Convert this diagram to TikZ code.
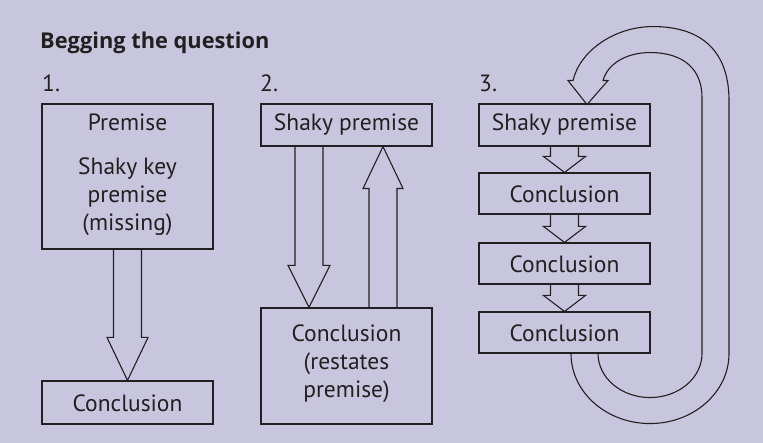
\documentclass[tikz,border=0pt]{standalone}
\usepackage{fontspec}
\setmainfont{PT Sans}
\newfontfamily\titlefont{Open Sans}
\usetikzlibrary{calc}
\definecolor{bg}{RGB}{200,198,222}
\definecolor{ink}{RGB}{35,31,32}
\newcommand{\blkdown}[5]{\draw[blk] let \p1=#1, \p2=#2 in (\x2-#3,\y1) -- (\x2-#3,\y2+#5) -- (\x2-#4,\y2+#5) -- (\x2,\y2) -- (\x2+#4,\y2+#5) -- (\x2+#3,\y2+#5) -- (\x2+#3,\y1);}
\newcommand{\blkup}[5]{\draw[blk] let \p1=#1, \p2=#2 in (\x2-#3,\y1) -- (\x2-#3,\y2-#5) -- (\x2-#4,\y2-#5) -- (\x2,\y2) -- (\x2+#4,\y2-#5) -- (\x2+#3,\y2-#5) -- (\x2+#3,\y1);}
\begin{document}
\begin{tikzpicture}[x=1pt,y=-1pt,
  box/.style={draw=ink, line width=1.1pt, minimum width=171pt, inner sep=0pt},
  blk/.style={draw=ink, line width=1.1pt, line join=miter},
  txt/.style={text=ink, anchor=base, inner sep=0pt, font=\fontsize{23.5}{28}\selectfont},
  num/.style={txt, anchor=base west},
  ttl/.style={text=ink, anchor=base west, inner sep=0pt, font=\titlefont\fontsize{21.8}{26}\selectfont\bfseries}]
\fill[bg] (0,0) rectangle (763,443);
\useasboundingbox (0,0) rectangle (763,443);
% title and numbers
\node[ttl] (title) at (40,49) {Begging the question};
\node[num] (n1) at (42,92) {1.};
\node[num] (n2) at (260,92) {2.};
\node[num] (n3) at (479,92) {3.};
% boxes
\node[box, minimum height=145pt] (p1) at (127.5,176.5) {};
\node[box, minimum height=43pt] (c1) at (127.5,402.5) {};
\node[box, minimum height=42pt] (s2) at (346.5,125) {};
\node[box, minimum height=116pt] (c2) at (346.5,366) {};
\node[box, minimum height=42pt] (s3) at (564.5,125) {};
\node[box, minimum height=41pt] (c3a) at (564.5,193.5) {};
\node[box, minimum height=41pt] (c3b) at (564.5,263.5) {};
\node[box, minimum height=41pt] (c3c) at (564.5,332.5) {};
% texts
\node[txt] (p1a) at (127.5,131) {Premise};
\node[txt] (p1b) at (127.5,175) {Shaky key};
\node[txt] (p1c) at (127.5,203) {premise};
\node[txt] (p1d) at (127.5,231) {(missing)};
\node[txt] (c1t) at (127.5,411) {Conclusion};
\node[txt] (s2t) at (346.5,131) {Shaky premise};
\node[txt] (c2a) at (346.5,342) {Conclusion};
\node[txt] (c2b) at (346.5,370) {(restates};
\node[txt] (c2c) at (346.5,398) {premise)};
\node[txt] (s3t) at (564.5,131) {Shaky premise};
\node[txt] (c3at) at (564.5,203) {Conclusion};
\node[txt] (c3bt) at (564.5,273) {Conclusion};
\node[txt] (c3ct) at (564.5,342) {Conclusion};
% block arrows
\coordinate (a2s) at ($(s2.south)+(-37.5,0)$);
\coordinate (a2e) at ($(c2.north)+(-37.5,0)$);
\coordinate (b2s) at ($(c2.north)+(36.5,0)$);
\coordinate (b2e) at ($(s2.south)+(36.5,0)$);
\blkdown{(p1.south)}{(c1.north)}{14pt}{20.5pt}{43pt}
\blkdown{(a2s)}{(a2e)}{14pt}{21pt}{42pt}
\blkup{(b2s)}{(b2e)}{14pt}{20pt}{42pt}
\blkdown{(s3.south)}{(c3a.north)}{14pt}{21pt}{16pt}
\blkdown{(c3a.south)}{(c3b.north)}{14pt}{21pt}{16pt}
\blkdown{(c3b.south)}{(c3c.north)}{14pt}{21pt}{16pt}
% loop arrow
\begin{scope}[shift={(c3c.south)}]
\draw[blk] (6.5,0) .. controls (6.5,38.7) and (41.9,70) .. (85.5,70)
  .. controls (129.1,70) and (164.5,38.7) .. (164.5,0)
  -- (164.5,-253)
  .. controls (164.5,-301) and (138.5,-327) .. (88.5,-327)
  .. controls (50.5,-327) and (15.5,-303) .. (8.5,-273)
  -- (3.5,-273) -- (22.5,-249) -- (43.5,-273) -- (38.5,-273)
  .. controls (43.5,-291) and (63.5,-301) .. (85.5,-301)
  .. controls (120.5,-301) and (137.5,-283) .. (137.5,-256)
  -- (137.5,0)
  .. controls (137.5,24.3) and (114.2,44) .. (85.5,44)
  .. controls (56.8,44) and (33.5,24.3) .. (33.5,0);
\end{scope}
\end{tikzpicture}
\end{document}
